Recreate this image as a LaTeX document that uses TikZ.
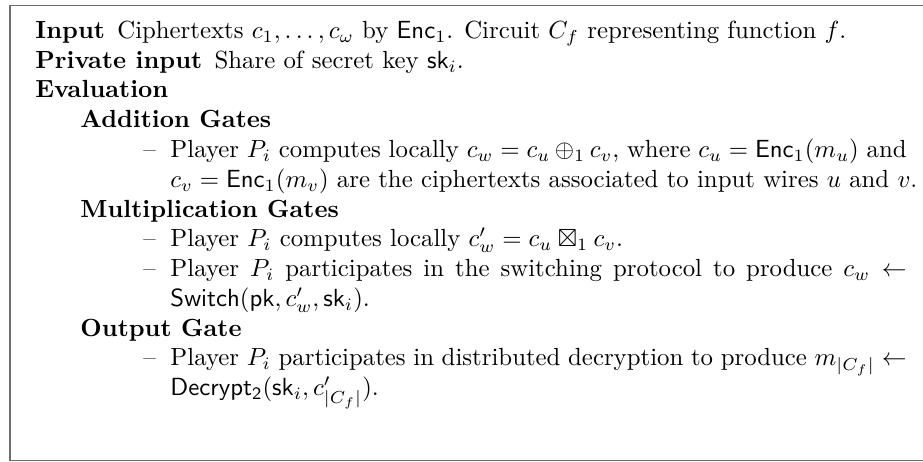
\documentclass[tikz,border=0pt]{standalone}
\usepackage{amsmath,amssymb}
\usepackage{tikz}

\definecolor{framegray}{RGB}{110,110,110}
\newlength\itemwd
\setlength\itemwd{296.8pt}

\begin{document}
\begin{tikzpicture}[x=0.4032pt,y=-0.4032pt,
txt/.style={anchor=base west,inner sep=0pt},
head/.style={txt,font=\bfseries}]

\useasboundingbox (0,0) rectangle (923,462);
\draw[framegray,line width=0.7pt] (935,5.5) -- (10,5.5) -- (10,460.5) -- (935,460.5);

% top level
\node[txt] (input) at (35,38.5) {\textbf{Input}\enskip Ciphertexts $c_1,\ldots,c_\omega$ by $\mathsf{Enc}_1$. Circuit $C_f$ representing function $f$.};
\node[txt] (priv) at (35,68.3) {\textbf{Private input}\enskip Share of secret key $\mathsf{sk}_i$.};
\node[head] (eval) at (35,98) {Evaluation};

% addition gates
\node[head] (add) at (80,127.8) {Addition Gates};
\node[txt] (adddash) at (143,157.5) {\textendash};
\node[txt] (add1) at (170,157.5) {\makebox[\itemwd][s]{Player $P_i$ computes locally $c_w = c_u \oplus_1 c_v$, where $c_u = \mathsf{Enc}_1(m_u)$ and}};
\node[txt] (add2) at (170,187.3) {$c_v = \mathsf{Enc}_1(m_v)$ are the ciphertexts associated to input wires $u$ and $v$.};

% multiplication gates
\node[head] (mult) at (80,217.1) {Multiplication Gates};
\node[txt] (multdash) at (143,246.8) {\textendash};
\node[txt] (mult1) at (170,246.8) {Player $P_i$ computes locally $c'_w = c_u \boxtimes_1 c_v$.};
\node[txt] (switchdash) at (143,276.6) {\textendash};
\node[txt] (switch1) at (170,276.6) {\makebox[\itemwd][s]{Player $P_i$ participates in the switching protocol to produce $c_w \leftarrow$}};
\node[txt] (switch2) at (170,306.3) {$\mathsf{Switch}(\mathsf{pk}, c'_w, \mathsf{sk}_i)$.};

% output gate
\node[head] (out) at (80,336.1) {Output Gate};
\node[txt] (outdash) at (143,365.9) {\textendash};
\node[txt] (out1) at (170,365.9) {\makebox[\itemwd][s]{Player $P_i$ participates in distributed decryption to produce $m_{|C_f|} \leftarrow$}};
\node[txt] (out2) at (170,395.6) {$\mathsf{Decrypt_2}(\mathsf{sk}_i, c'_{|C_f|})$.};

\end{tikzpicture}
\end{document}
